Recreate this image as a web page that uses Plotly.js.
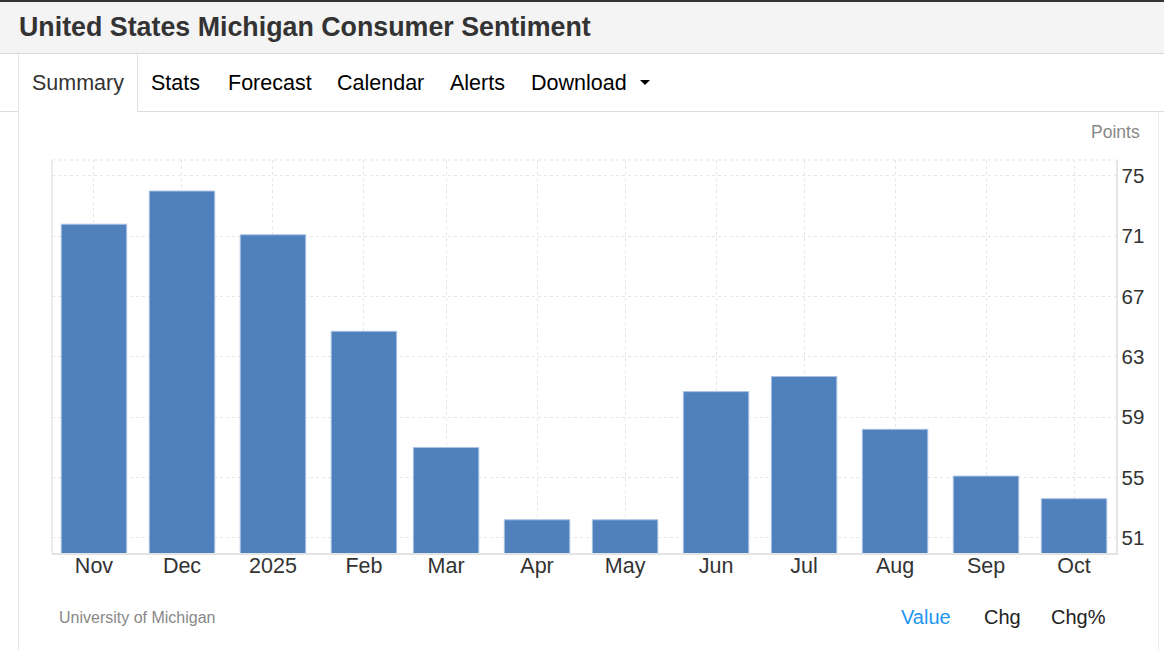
<!DOCTYPE html>
<html>
<head>
<meta charset="utf-8">
<script src="https://cdn.plot.ly/plotly-3.0.1.min.js"></script>
<style>
  html, body { margin:0; padding:0; width:1164px; height:650px; overflow:hidden; background:#fff;
    font-family: "Liberation Sans", Arial, Helvetica, sans-serif; }
  .abs { position:absolute; white-space:nowrap; pointer-events:none; z-index:5; }
  #chart { position:absolute; left:0; top:113px; width:1164px; height:537px; z-index:1; }
  .tab { font-size:21.5px; top:71px; }
</style>
</head>
<body>
<!-- header bar -->
<div class="abs" style="left:0;top:0;width:1164px;height:54px;background:#f4f4f4;border-top:2px solid #333;box-sizing:border-box;border-bottom:1px solid #d9d9d9;"></div>
<div class="abs" id="title" style="left:19px;top:12px;font-size:26.8px;font-weight:bold;color:#333;">United States Michigan Consumer Sentiment</div>
<!-- tabs -->
<div class="abs" style="left:0;top:111px;width:18px;height:1px;background:#dcdcdc;"></div>
<div class="abs" style="left:137px;top:111px;width:1027px;height:1px;background:#dcdcdc;"></div>
<div class="abs" style="left:18px;top:54px;width:1px;height:596px;background:#e6e6e6;"></div>
<div class="abs" style="left:137px;top:54px;width:1px;height:58px;background:#e0e0e0;"></div>
<div class="abs" style="left:1158px;top:112px;width:1px;height:538px;background:#eeeeee;"></div>
<div class="abs tab" style="left:32px;color:#333;">Summary</div>
<div class="abs tab" style="left:151px;color:#000;">Stats</div>
<div class="abs tab" style="left:228px;color:#000;">Forecast</div>
<div class="abs tab" style="left:337px;color:#000;">Calendar</div>
<div class="abs tab" style="left:450px;color:#000;">Alerts</div>
<div class="abs tab" style="left:531px;color:#000;">Download</div>
<div class="abs" style="left:640px;top:80px;width:0;height:0;border-left:5px solid transparent;border-right:5px solid transparent;border-top:5px solid #000;"></div>
<div class="abs" style="left:1091px;top:122px;font-size:17.5px;color:#888;">Points</div>
<!-- footer -->
<div class="abs" style="left:59px;top:609px;font-size:16px;color:#888;">University of Michigan</div>
<div class="abs" style="left:901px;top:606px;font-size:20px;color:#2196f3;">Value</div>
<div class="abs" style="left:984px;top:606px;font-size:20px;color:#222;">Chg</div>
<div class="abs" style="left:1051px;top:606px;font-size:20px;color:#222;">Chg%</div>

<div id="chart"></div>
<script>
const months = ['2024-11-01','2024-12-01','2025-01-01','2025-02-01','2025-03-01','2025-04-01',
                '2025-05-01','2025-06-01','2025-07-01','2025-08-01','2025-09-01','2025-10-01'];
const values = [71.8, 74.0, 71.1, 64.7, 57.0, 52.2, 52.2, 60.7, 61.7, 58.2, 55.1, 53.6];
const tickLabels = ['Nov','Dec','2025','Feb','Mar','Apr','May','Jun','Jul','Aug','Sep','Oct'];
const yTicks = [51, 55, 59, 63, 67, 71, 75];

const trace = {
  type: 'bar', x: months, y: values,
  width: 22.3 * 86400000,
  marker: { color: '#4f81bd', line: { color: '#a9c1e3', width: 1 } },
  hoverinfo: 'x+y'
};
const layout = {
  width: 1164, height: 537,
  margin: { l: 52, r: 48, t: 47, b: 97 },
  paper_bgcolor: 'rgba(0,0,0,0)', plot_bgcolor: '#fff',
  showlegend: false, bargap: 0,
  font: { family: '"Liberation Sans", Arial, sans-serif', color: '#333' },
  xaxis: {
    type: 'date', range: ['2024-10-17 16:48', '2025-10-15 07:12'],
    tickvals: months, ticktext: tickLabels, ticks: '', ticklabelstandoff: -7,
    tickfont: { size: 21.5, color: '#333' },
    showgrid: true, gridcolor: '#e6e6e6', griddash: 'dot', gridwidth: 1,
    showline: true, linecolor: '#e3e3e3', linewidth: 1.5, zeroline: false, fixedrange: true
  },
  yaxis: {
    side: 'right', range: [50, 76.06], tickvals: yTicks, ticks: '',
    tickfont: { size: 20.5, color: '#333' },
    showgrid: true, gridcolor: '#e6e6e6', griddash: 'dot', gridwidth: 1,
    showline: true, linecolor: '#e6e6e6', linewidth: 1.5, zeroline: false, fixedrange: true
  },
  shapes: [
    { type: 'line', xref: 'paper', yref: 'paper', x0: 0, x1: 0, y0: 0, y1: 1, line: { color: '#e6e6e6', width: 1.5 } },
    { type: 'line', xref: 'paper', yref: 'paper', x0: 0, x1: 1, y0: 1, y1: 1, line: { color: '#e3e3e3', width: 1, dash: 'dot' } }
  ]
};
Plotly.newPlot('chart', [trace], layout, { displayModeBar: false, staticPlot: true });
</script>
</body>
</html>
